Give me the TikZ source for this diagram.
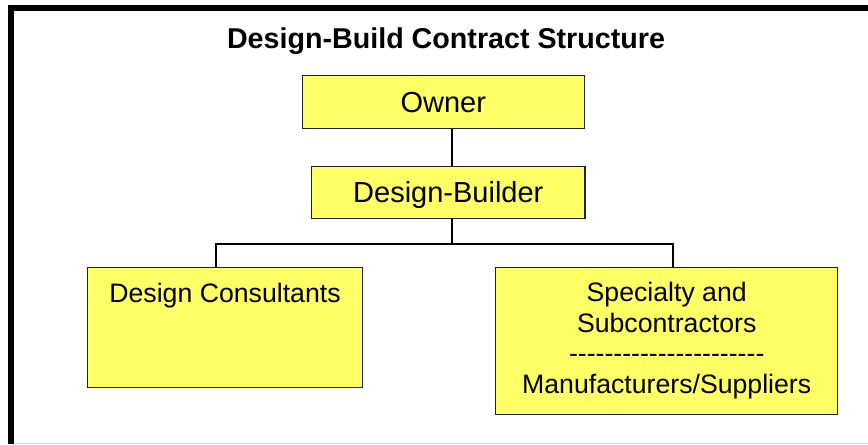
\documentclass[tikz,border=0pt]{standalone}
\usepackage{fontspec}
\setmainfont{Liberation Sans}
\usepackage{tikz}
\usetikzlibrary{positioning, calc}

\definecolor{boxyellow}{HTML}{FFFF66}
\definecolor{boxline}{HTML}{222222}

\newcommand{\dashrow}{\foreach \k in {1,...,22}{\mbox{-}}}

\begin{document}
\begin{tikzpicture}[x=0.75pt, y=-0.75pt,
        entity/.style={draw=boxline, line width=0.8pt, fill=boxyellow, inner sep=0pt},
        topfont/.style={font=\fontsize{21.75}{26}\selectfont},
        lowfont/.style={font=\fontsize{20}{23}\selectfont},
        link/.style={line width=1.5pt}]
        \useasboundingbox (0,0) rectangle (868,444);

        % frame
        \draw[line width=4.5pt] (11,444) -- (11,8) -- (868,8);
        \draw[black!15, line width=0.75pt] (14,443) -- (868,443);

        \node[anchor=base, font=\fontsize{21.5}{26}\selectfont\bfseries] (title) at (446,48) {Design-Build Contract Structure};

        \node[entity, topfont, text depth=0pt, minimum width=211.5pt, minimum height=40pt] (owner) at (443.3,102) {Owner};
        \node[entity, topfont, text depth=0pt, minimum width=205pt, minimum height=39.2pt] (builder) at (448.3,192.2) {Design-Builder};
        \node[entity, lowfont, anchor=north west, text height=26.25pt, text depth=63.75pt, minimum width=205.8pt] (consult) at (87.3,266.7) {Design Consultants};
        \node[entity, lowfont, align=center, minimum width=256.5pt, minimum height=110pt] (trades) at (666.7,340.7)
            {Specialty and\\Subcontractors\\\dashrow\\Manufacturers/Suppliers};

        \coordinate (bus) at (452,244);
        \coordinate (lefttap) at (216,244);
        \coordinate (righttap) at (673,244);

        \draw[link]
            (owner.south -| bus) -- (builder.north -| bus)
            (builder.south -| bus) -- (bus)
            (consult.north -| lefttap) -- (lefttap) -- (righttap) -- (trades.north -| righttap)
            ;
    \end{tikzpicture}
\end{document}
